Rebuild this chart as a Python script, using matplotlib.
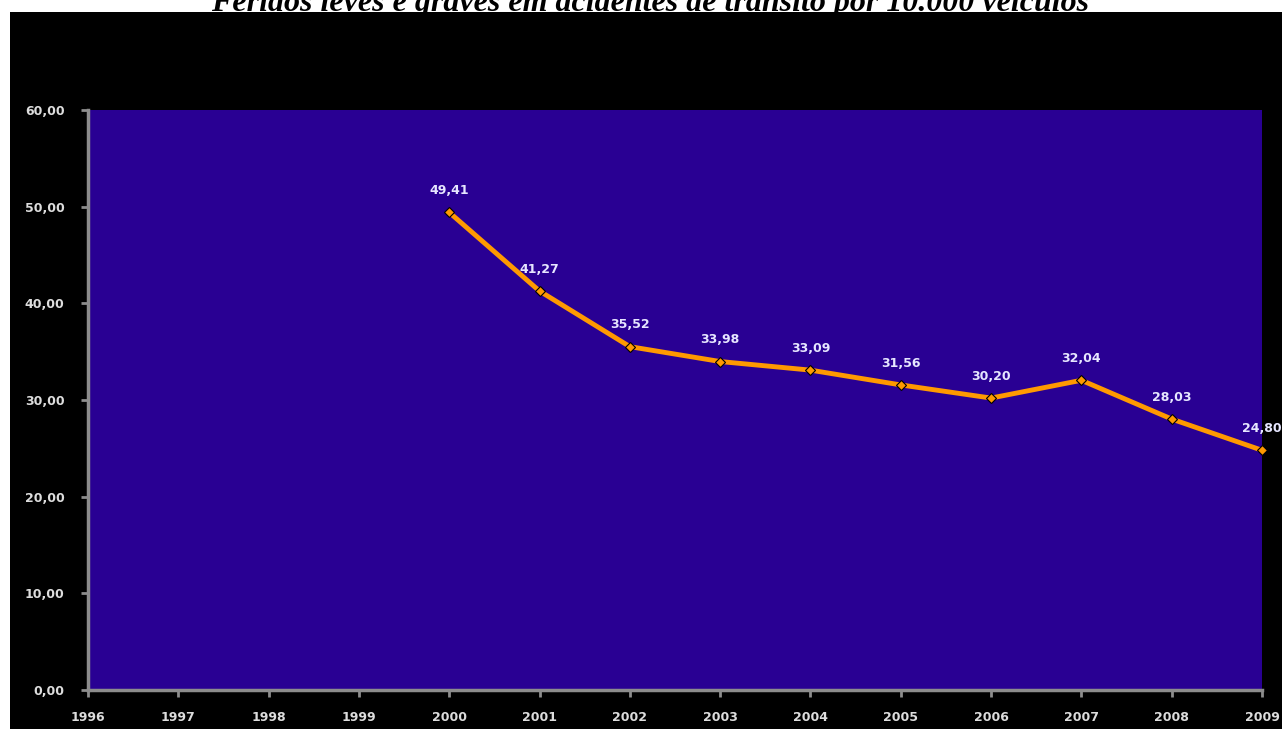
import matplotlib.pyplot as plt
from matplotlib.patches import Rectangle

years = [2000, 2001, 2002, 2003, 2004, 2005, 2006, 2007, 2008, 2009]
values = [49.41, 41.27, 35.52, 33.98, 33.09, 31.56, 30.20, 32.04, 28.03, 24.80]
x_ticks = list(range(1996, 2010))
y_ticks = [0, 10, 20, 30, 40, 50, 60]
title = "Feridos leves e graves em acidentes de trânsito por 10.000 veículos"

W, H = 1282, 729
fig = plt.figure(figsize=(W / 100, H / 100), dpi=100, facecolor="white")

# black chart background below the white title band
fig.patches.append(Rectangle((10 / W, 0), 1 - 10 / W, 1 - 12 / H,
                             transform=fig.transFigure, facecolor="black",
                             edgecolor="none", zorder=-10))

fig.text(650 / W, 1 - 11 / H, title, ha="center", va="baseline",
         family="Liberation Serif", weight="bold", style="italic",
         fontsize=23, color="black", zorder=-5)

ax = fig.add_axes([88 / W, 1 - 690 / H, (1262 - 88) / W, (690 - 110) / H])
ax.set_facecolor("#290093")

ax.plot(years, values, color="#FF9900", lw=3.5, marker="D", ms=5,
        mfc="#FF9900", mec="black", mew=0.8, zorder=3, clip_on=False)

for x, v in zip(years, values):
    ax.annotate(f"{v:.2f}".replace(".", ","), (x, v), xytext=(0, 11),
                textcoords="offset points", ha="center", va="bottom",
                color="#E6E6FF", fontsize=9, weight="bold",
                annotation_clip=False)

ax.set_xlim(1996, 2009)
ax.set_ylim(0, 60)
ax.set_xticks(x_ticks)
ax.set_xticklabels([str(y) for y in x_ticks])
ax.set_yticks(y_ticks)
ax.set_yticklabels([f"{t:.2f}".replace(".", ",") for t in y_ticks])

for side in ["top", "right"]:
    ax.spines[side].set_visible(False)
for side in ["left", "bottom"]:
    ax.spines[side].set_color("#8C8C8C")
    ax.spines[side].set_linewidth(2.5)

ax.tick_params(axis="both", colors="#8C8C8C", width=2, length=5,
               labelcolor="#DDDDDD", labelsize=9)
ax.tick_params(axis="x", pad=10)
ax.tick_params(axis="y", pad=12)
for lab in ax.get_xticklabels() + ax.get_yticklabels():
    lab.set_fontweight("bold")

fig.savefig("out.png", dpi=100, facecolor="white")
